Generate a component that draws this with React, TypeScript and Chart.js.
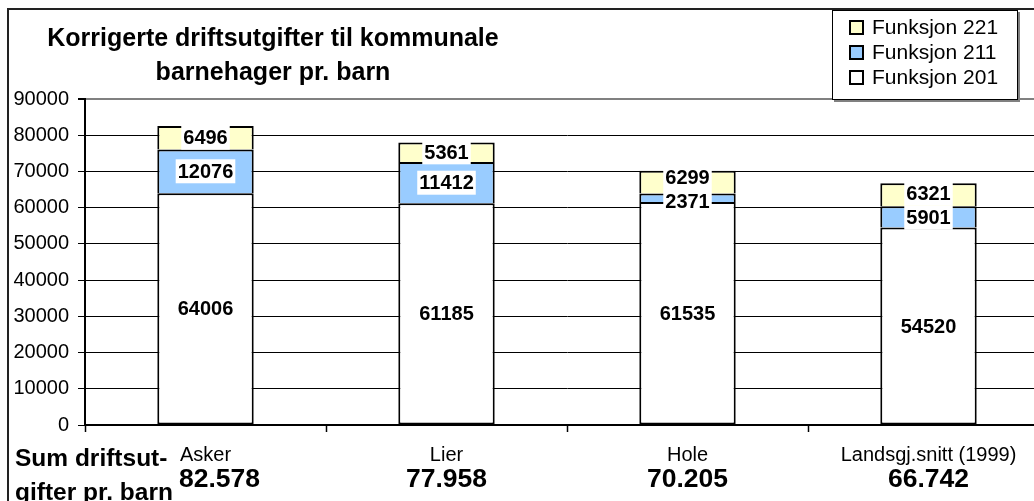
import React, { useEffect, useRef } from "react";
import { Chart, registerables } from "chart.js";

Chart.register(...registerables);

const categories = ["Asker", "Lier", "Hole", "Landsgj.snitt (1999)"];
const funksjon201 = [64006, 61185, 61535, 54520];
const funksjon211 = [12076, 11412, 2371, 5901];
const funksjon221 = [6496, 5361, 6299, 6321];
const seriesNames = ["Funksjon 201", "Funksjon 211", "Funksjon 221"];
const seriesColors = ["#FFFFFF", "#99CCFF", "#FFFFCC"];
const yMin = 0;
const yMax = 90000;
const yStep = 10000;
const titleLines = ["Korrigerte driftsutgifter til kommunale", "barnehager pr. barn"];
const sumLabelLines = ["Sum driftsut-", "gifter pr. barn"];

const FONT = "'Liberation Sans', Arial, Helvetica, sans-serif";

function formatTotal(n: number): string {
  const thousands = Math.floor(n / 1000);
  const rest = String(n % 1000).padStart(3, "0");
  return thousands + "." + rest;
}

const totals = categories.map((_, i) => funksjon201[i] + funksjon211[i] + funksjon221[i]);

const LABEL_H = 24;

const decorPlugin = {
  id: "decor",
  afterDatasetsDraw(chart: any) {
    const ctx = chart.ctx as CanvasRenderingContext2D;
    ctx.save();
    ctx.font = `bold 20px ${FONT}`;
    ctx.textAlign = "center";
    ctx.textBaseline = "middle";
    const nCat = chart.data.labels.length;
    for (let i = 0; i < nCat; i++) {
      const items: { x: number; cy: number; txt: string }[] = [];
      chart.data.datasets.forEach((ds: any, d: number) => {
        const el = chart.getDatasetMeta(d).data[i];
        items.push({ x: el.x, cy: (el.y + el.base) / 2, txt: String(ds.data[i]) });
      });
      for (let k = 1; k < items.length; k++) {
        const lower = items[k - 1];
        const upper = items[k];
        const gap = lower.cy - upper.cy;
        if (gap < LABEL_H) {
          const shift = (LABEL_H - gap) / 2;
          lower.cy += shift;
          upper.cy -= shift;
        }
      }
      items.forEach((it) => {
        const w = ctx.measureText(it.txt).width;
        ctx.fillStyle = "#FFFFFF";
        ctx.fillRect(it.x - w / 2 - 2, it.cy - LABEL_H / 2, w + 4, LABEL_H);
        ctx.fillStyle = "#000000";
        ctx.fillText(it.txt, it.x, it.cy + 1);
      });
    }
    ctx.restore();
  },
  afterDraw(chart: any) {
    const ctx = chart.ctx as CanvasRenderingContext2D;
    const area = chart.chartArea;
    const n = categories.length;
    const step = (area.right - area.left) / n;
    ctx.save();

    // x axis line and tick marks
    ctx.strokeStyle = "#000";
    ctx.lineWidth = 2;
    ctx.beginPath();
    ctx.moveTo(area.left, area.bottom);
    ctx.lineTo(area.right, area.bottom);
    ctx.stroke();
    ctx.lineWidth = 1.5;
    for (let i = 0; i <= n; i++) {
      const bx = Math.round(area.left + i * step) + 0.5;
      ctx.beginPath();
      ctx.moveTo(bx, area.bottom);
      ctx.lineTo(bx, area.bottom + 7);
      ctx.stroke();
    }

    // outer frame
    ctx.strokeStyle = "#222";
    ctx.lineWidth = 2;
    ctx.beginPath();
    ctx.moveTo(8, 600);
    ctx.lineTo(8, 9);
    ctx.lineTo(1200, 9);
    ctx.stroke();

    // title
    ctx.fillStyle = "#000";
    ctx.font = `bold 25px ${FONT}`;
    ctx.textAlign = "center";
    ctx.textBaseline = "middle";
    ctx.fillText(titleLines[0], 273, 39);
    ctx.fillText(titleLines[1], 273, 73);

    // legend
    const lx = 832, ly = 10, lw = 186, lh = 90;
    ctx.fillStyle = "#808080";
    ctx.fillRect(lx + 2, ly + 2, lw, lh);
    ctx.fillStyle = "#FFFFFF";
    ctx.fillRect(lx, ly, lw, lh);
    ctx.strokeStyle = "#000";
    ctx.lineWidth = 1;
    ctx.strokeRect(lx + 0.5, ly + 0.5, lw - 1, lh - 1);
    const order = [2, 1, 0];
    ctx.font = `21px ${FONT}`;
    ctx.textAlign = "left";
    order.forEach((s, r) => {
      const cy = 27 + r * 25;
      ctx.fillStyle = seriesColors[s];
      ctx.fillRect(850, cy - 6, 13, 13);
      ctx.strokeStyle = "#000";
      ctx.lineWidth = 2;
      ctx.strokeRect(850, cy - 6, 13, 13);
      ctx.fillStyle = "#000";
      ctx.fillText(seriesNames[s], 872, cy + 1);
    });

    // sum label
    ctx.textAlign = "left";
    ctx.font = `bold 24.5px ${FONT}`;
    ctx.fillText(sumLabelLines[0], 15, 459);
    ctx.fillText(sumLabelLines[1], 15, 493);
    const sumRight =
      15 + Math.max(ctx.measureText(sumLabelLines[0]).width, ctx.measureText(sumLabelLines[1]).width);

    // category labels and totals
    categories.forEach((c, i) => {
      const cx = area.left + (i + 0.5) * step;
      ctx.textAlign = "center";
      ctx.font = `20px ${FONT}`;
      ctx.fillText(c, cx, 455);
      ctx.font = `bold 26.5px ${FONT}`;
      const t = formatTotal(totals[i]);
      const w = ctx.measureText(t).width;
      const left = Math.max(cx - w / 2, sumRight + 6);
      ctx.textAlign = "left";
      ctx.fillText(t, left, 480);
    });

    ctx.restore();
  },
};

export default function App() {
  const canvasRef = useRef<HTMLCanvasElement | null>(null);

  useEffect(() => {
    const canvas = canvasRef.current;
    if (!canvas) return;
    const dataSeries = [funksjon201, funksjon211, funksjon221];
    const chart = new Chart(canvas, {
      type: "bar",
      data: {
        labels: categories,
        datasets: dataSeries.map((arr, s) => ({
          label: seriesNames[s],
          data: arr,
          backgroundColor: seriesColors[s],
          borderColor: "#000000",
          borderWidth: { left: 2, right: 2, top: 2, bottom: s === 0 ? 2 : 0 },
          borderSkipped: false,
          categoryPercentage: 1,
          barPercentage: 0.4,
        })),
      },
      options: {
        animation: false,
        responsive: false,
        devicePixelRatio: 1,
        layout: { padding: { left: 0, top: 99, right: 11, bottom: 76 } },
        plugins: {
          legend: { display: false },
          title: { display: false },
          tooltip: { enabled: false },
        },
        scales: {
          x: { stacked: true, display: false },
          y: {
            stacked: true,
            min: yMin,
            max: yMax,
            ticks: {
              stepSize: yStep,
              color: "#000",
              padding: 9,
              font: { family: FONT, size: 20 },
              callback: (v: any) => String(v),
            },
            grid: {
              color: (c: any) => (c.tick && c.tick.value === yMax ? "#808080" : "#000000"),
              lineWidth: (c: any) => (c.tick && c.tick.value === yMax ? 2 : 1),
              tickLength: 7,
              tickColor: "#000000",
            },
            border: { color: "#000000", width: 2 },
            afterFit: (scale: any) => {
              scale.width = 85;
            },
          },
        },
      },
      plugins: [decorPlugin],
    } as any);
    return () => chart.destroy();
  }, []);

  return (
    <div style={{ position: "fixed", left: 0, top: 0, width: 1060, height: 501, background: "#fff", overflow: "hidden" }}>
      <canvas ref={canvasRef} width={1060} height={501} style={{ display: "block" }} />
    </div>
  );
}
